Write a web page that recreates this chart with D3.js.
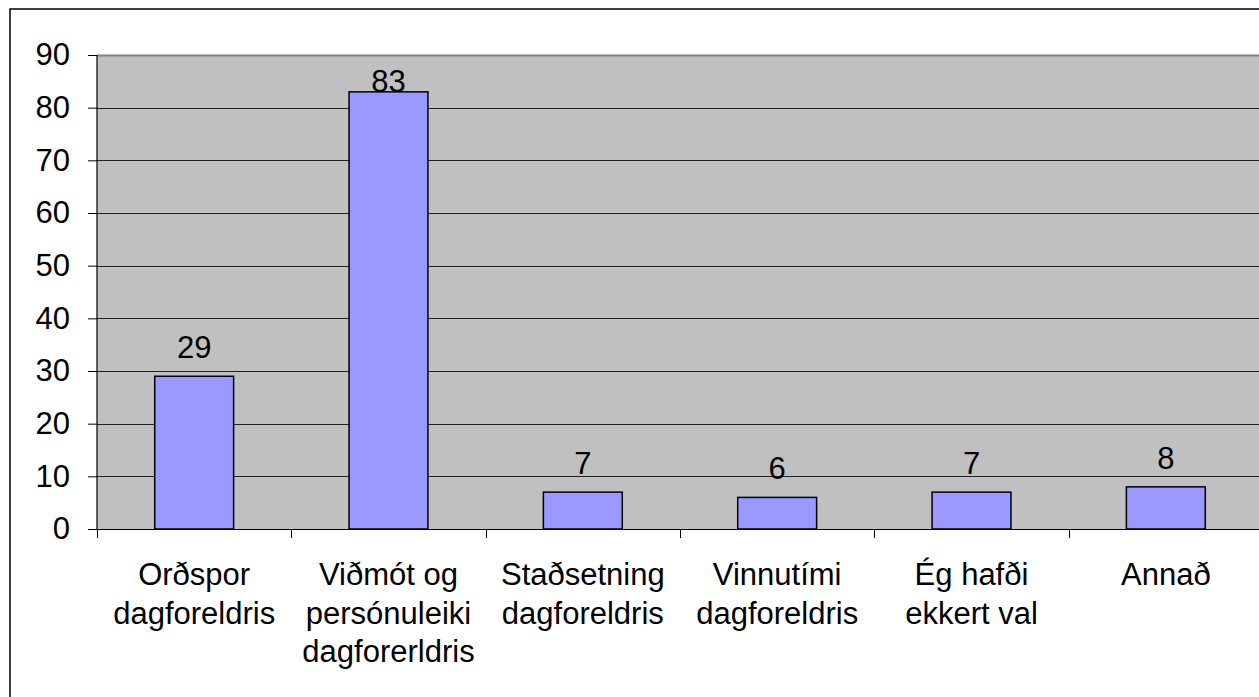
<!DOCTYPE html>
<html>
<head>
<meta charset="utf-8">
<script src="https://cdn.jsdelivr.net/npm/d3@7"></script>
<style>
html,body{margin:0;padding:0;background:#fff;}
svg{display:block;}
text{font-family:"Liberation Sans",Arial,sans-serif;fill:#000;}
</style>
</head>
<body>
<svg id="chart" width="1259" height="697"></svg>
<script>
const categories = [
  ["Orðspor","dagforeldris"],
  ["Viðmót og","persónuleiki","dagforerldris"],
  ["Staðsetning","dagforeldris"],
  ["Vinnutími","dagforeldris"],
  ["Ég hafði","ekkert val"],
  ["Annað"]
];
const values = [29, 83, 7, 6, 7, 8];
const yTicks = [0,10,20,30,40,50,60,70,80,90];

(function(){
const svg = d3.select("#chart");
const W = 1259, H = 697;
const pLeft = 97, pTop = 55, pRight = 1263, pBottom = 529;
const fontSize = 31;

// outer border
svg.append("rect").attr("x",10).attr("y",9).attr("width",W+20).attr("height",H+20)
  .attr("fill","#fff").attr("stroke","#000").attr("stroke-width",1.5);

const x = d3.scaleBand().domain(d3.range(categories.length)).range([pLeft,pRight]).paddingInner(0.594).paddingOuter(0.297);
const y = d3.scaleLinear().domain([0,90]).range([pBottom,pTop]);

// plot background
svg.append("rect").attr("x",pLeft).attr("y",pTop).attr("width",pRight-pLeft).attr("height",pBottom-pTop)
  .attr("fill","#C0C0C0");

// gridlines
svg.append("g").selectAll("line").data(yTicks.filter(d=>d>0 && d<90)).join("line")
  .attr("x1",pLeft).attr("x2",pRight).attr("y1",d=>Math.round(y(d))+0.5).attr("y2",d=>Math.round(y(d))+0.5)
  .attr("stroke","#222").attr("stroke-width",1);
svg.append("line").attr("x1",pLeft).attr("x2",pRight).attr("y1",pTop+0.5).attr("y2",pTop+0.5)
  .attr("stroke","#808080").attr("stroke-width",2);

// bars
svg.append("g").selectAll("rect").data(values).join("rect")
  .attr("x",(d,i)=>x(i)).attr("width",x.bandwidth())
  .attr("y",d=>y(d)).attr("height",d=>pBottom-y(d))
  .attr("fill","#9999FF").attr("stroke","#000").attr("stroke-width",1.5);

// value labels
svg.append("g").selectAll("text").data(values).join("text")
  .attr("x",(d,i)=>x(i)+x.bandwidth()/2)
  .attr("y",d=>Math.max(y(d)-18, pTop+37))
  .attr("text-anchor","middle").attr("font-size",fontSize)
  .text(d=>d);

// y axis
const yAxis = d3.axisLeft(y).tickValues(yTicks).tickSize(9).tickPadding(18);
const gy = svg.append("g").attr("transform",`translate(${pLeft},0)`).call(yAxis);
gy.select(".domain").attr("stroke","#000").attr("stroke-width",1.2).attr("d",`M0,${pTop}V${pBottom}`);
gy.selectAll(".tick line").attr("stroke","#000");
gy.selectAll(".tick text").attr("font-size",fontSize).attr("font-family","Liberation Sans, Arial, sans-serif").attr("fill","#000");

// x axis
const xTickPos = d3.range(categories.length).map(i=>pLeft + i*(pRight-pLeft)/categories.length);
svg.append("line").attr("x1",pLeft-9).attr("x2",pRight).attr("y1",pBottom+0.5).attr("y2",pBottom+0.5)
  .attr("stroke","#000").attr("stroke-width",1.2);
svg.append("g").selectAll("line").data(xTickPos).join("line")
  .attr("x1",d=>Math.round(d)+0.5).attr("x2",d=>Math.round(d)+0.5).attr("y1",pBottom).attr("y2",pBottom+9)
  .attr("stroke","#000");

const gl = svg.append("g");
categories.forEach((lines,i)=>{
  const cx = x(i)+x.bandwidth()/2;
  const t = gl.append("text").attr("text-anchor","middle").attr("font-size",fontSize)
    .attr("x",cx).attr("y",585);
  lines.forEach((ln,j)=>{
    t.append("tspan").attr("x",cx).attr("y",585+j*38.5).text(ln);
  });
});
})();
</script>
</body>
</html>
